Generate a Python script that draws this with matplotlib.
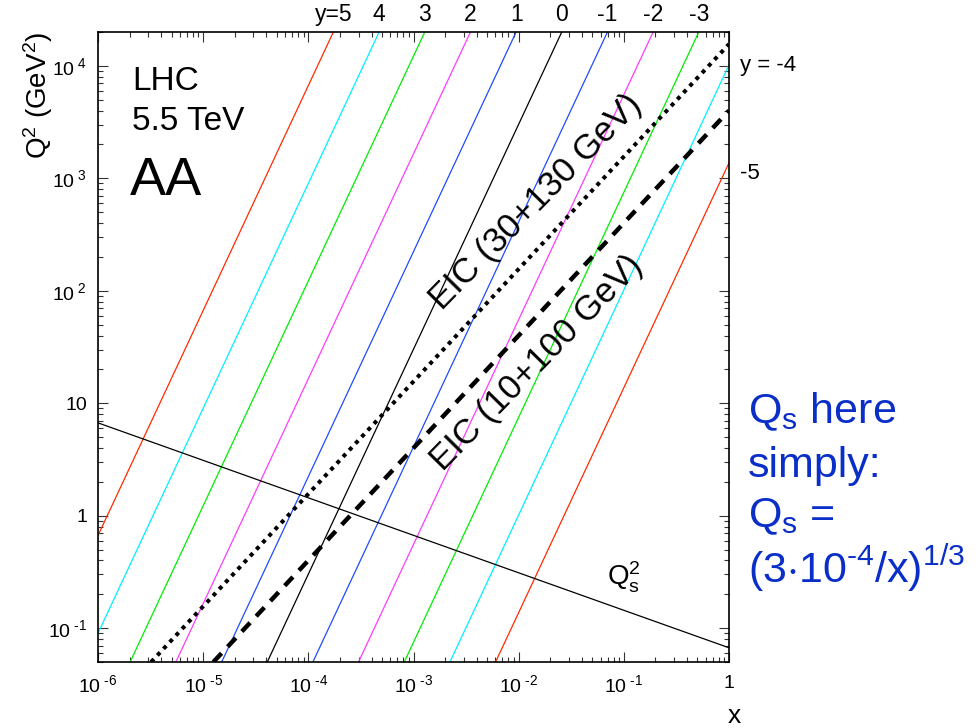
import matplotlib
matplotlib.use("Agg")
import matplotlib.pyplot as plt
from matplotlib.ticker import LogLocator, NullFormatter
from matplotlib.transforms import blended_transform_factory, offset_copy

plt.rcParams['font.family'] = ['Liberation Sans', 'DejaVu Sans']
plt.rcParams['mathtext.fontset'] = 'custom'
plt.rcParams['mathtext.rm'] = 'Liberation Sans'
plt.rcParams['mathtext.it'] = 'Liberation Sans:italic'
plt.rcParams['mathtext.bf'] = 'Liberation Sans:bold'
plt.rcParams['mathtext.sf'] = 'Liberation Sans'

# Constant-rapidity lines at LHC AA, 5.5 TeV: x where each line meets Q^2 = 0.05 and Q^2 = 2e4
rapidities = [5, 4, 3, 2, 1, 0, -1, -2, -3, -4, -5]
x_at_q2_low = [2.74e-7, 7.45e-7, 2.02e-6, 5.50e-6, 1.50e-5, 4.07e-5,
               1.105e-4, 3.00e-4, 8.17e-4, 2.22e-3, 6.03e-3]
x_at_q2_high = [1.73e-4, 4.71e-4, 1.28e-3, 3.48e-3, 9.46e-3, 2.57e-2,
                6.99e-2, 0.190, 0.516, 1.40, 3.82]
q2_low, q2_high = 0.05, 2.0e4
line_colors = ['#ff2a00', '#00f0ff', '#00ee00', '#ff3cff', '#1f4bff', 'black',
               '#1f4bff', '#ff3cff', '#00ee00', '#00f0ff', '#ff2a00']
top_labels = ['y=5', '4', '3', '2', '1', '0', '-1', '-2', '-3']

# Saturation scale
qs_x = [1e-6, 1.0]
qs_q2 = [6.69, 0.0669]

# EIC kinematic limits
eic_hi_x = [3.2e-6, 1.0]
eic_hi_q2 = [0.05, 15600.0]
eic_lo_x = [1.25e-5, 1.0]
eic_lo_q2 = [0.05, 4000.0]

x_ticks = [1e-6, 1e-5, 1e-4, 1e-3, 1e-2, 1e-1, 1.0]
x_ticklabels = [r'$10^{\text{ -6}}$', r'$10^{\text{ -5}}$', r'$10^{\text{ -4}}$', r'$10^{\text{ -3}}$',
                r'$10^{\text{ -2}}$', r'$10^{\text{ -1}}$', '1']
y_ticks = [0.1, 1.0, 10.0, 100.0, 1000.0, 10000.0]
y_ticklabels = [r'$10^{\text{ -1}}$', '1', '10', r'$10^{\text{ 2}}$', r'$10^{\text{ 3}}$', r'$10^{\text{ 4}}$']

fig = plt.figure(figsize=(9.8, 7.28), dpi=100)
ax = fig.add_axes([98 / 980, 1 - 662 / 728, 631 / 980, 630 / 728])
ax.set_xscale('log')
ax.set_yscale('log')
ax.set_xlim(1e-6, 1.0)
ax.set_ylim(q2_low, q2_high)

for xl, xh, c in zip(x_at_q2_low, x_at_q2_high, line_colors):
    ax.plot([xl, xh], [q2_low, q2_high], color=c, lw=0.9)

ax.plot(qs_x, qs_q2, color='black', lw=0.9)
ax.plot(eic_hi_x, eic_hi_q2, color='black', lw=2.9, linestyle=(0, (1, 1.25)))
ax.plot(eic_lo_x, eic_lo_q2, color='black', lw=3.2, linestyle=(0, (2.7, 2.0)))

ax.set_xticks(x_ticks)
ax.set_xticklabels(x_ticklabels)
ax.set_yticks(y_ticks)
ax.set_yticklabels(y_ticklabels)
ax.xaxis.set_minor_locator(LogLocator(base=10, subs=range(2, 10), numticks=20))
ax.yaxis.set_minor_locator(LogLocator(base=10, subs=range(2, 10), numticks=20))
ax.xaxis.set_minor_formatter(NullFormatter())
ax.yaxis.set_minor_formatter(NullFormatter())
ax.tick_params(which='both', direction='in', top=True, right=True, color='#333333', width=0.8)
ax.tick_params(which='major', length=7.5, labelsize=14)
ax.tick_params(axis='x', which='major', pad=9)
ax.tick_params(axis='y', which='major', pad=8)
ax.tick_params(which='minor', length=3.8)
for sp in ax.spines.values():
    sp.set_linewidth(1.2)

# Rapidity labels along the top edge
top_tr = blended_transform_factory(ax.transData, ax.transAxes)
for lab, xh in zip(top_labels, x_at_q2_high):
    ax.text(xh, 1.0, lab, transform=offset_copy(top_tr, fig=fig, y=6, units='dots'),
            ha='center', va='bottom', fontsize=16.5)

# Labels of the lines leaving through the right edge
right_tr = blended_transform_factory(ax.transAxes, ax.transData)
ax.text(1.0, 1.0e4, 'y = -4', transform=offset_copy(right_tr, fig=fig, x=11, units='dots'),
        ha='left', va='center', fontsize=16)
ax.text(1.0, 1.1e3, '-5', transform=offset_copy(right_tr, fig=fig, x=11, units='dots'),
        ha='left', va='center', fontsize=16)

ax.text(0.069, 0.284, r'$\mathregular{Q_s^2}$', ha='left', va='center', fontsize=20)

ax.text(0.0146, 615, 'EIC (30+130 GeV)', rotation=45.5, rotation_mode='anchor',
        ha='center', va='center', fontsize=25)
ax.text(0.0149, 23, 'EIC (10+100 GeV)', rotation=45.5, rotation_mode='anchor',
        ha='center', va='center', fontsize=25)

fig.text(132 / 980, 1 - 90 / 728, 'LHC', fontsize=24, ha='left', va='baseline')
fig.text(132 / 980, 1 - 130 / 728, '5.5 TeV', fontsize=24, ha='left', va='baseline')
fig.text(130 / 980, 1 - 195 / 728, 'AA', fontsize=39, ha='left', va='baseline')

fig.text(38 / 980, 1 - 95 / 728, r'Q$^2$ (GeV$^2$)', rotation=90,
         ha='center', va='center', fontsize=20)
fig.text(734 / 980, 1 - 723 / 728, 'x', ha='center', va='baseline', fontsize=19)

blue = '#0a2ec8'
fig.text(748 / 980, 1 - 423 / 728, r'Q$_\mathregular{s}$ here', color=blue, fontsize=31,
         ha='left', va='baseline')
fig.text(748 / 980, 1 - 477 / 728, 'simply:', color=blue, fontsize=31,
         ha='left', va='baseline')
fig.text(748 / 980, 1 - 527 / 728, r'Q$_\mathregular{s}$ =', color=blue, fontsize=31,
         ha='left', va='baseline')
fig.text(748 / 980, 1 - 583 / 728, r'(3$\cdot$10$^{\text{-4}}$/x)$^\mathregular{1/3}$',
         color=blue, fontsize=31, ha='left', va='baseline')

fig.savefig('out.png', dpi=100)
